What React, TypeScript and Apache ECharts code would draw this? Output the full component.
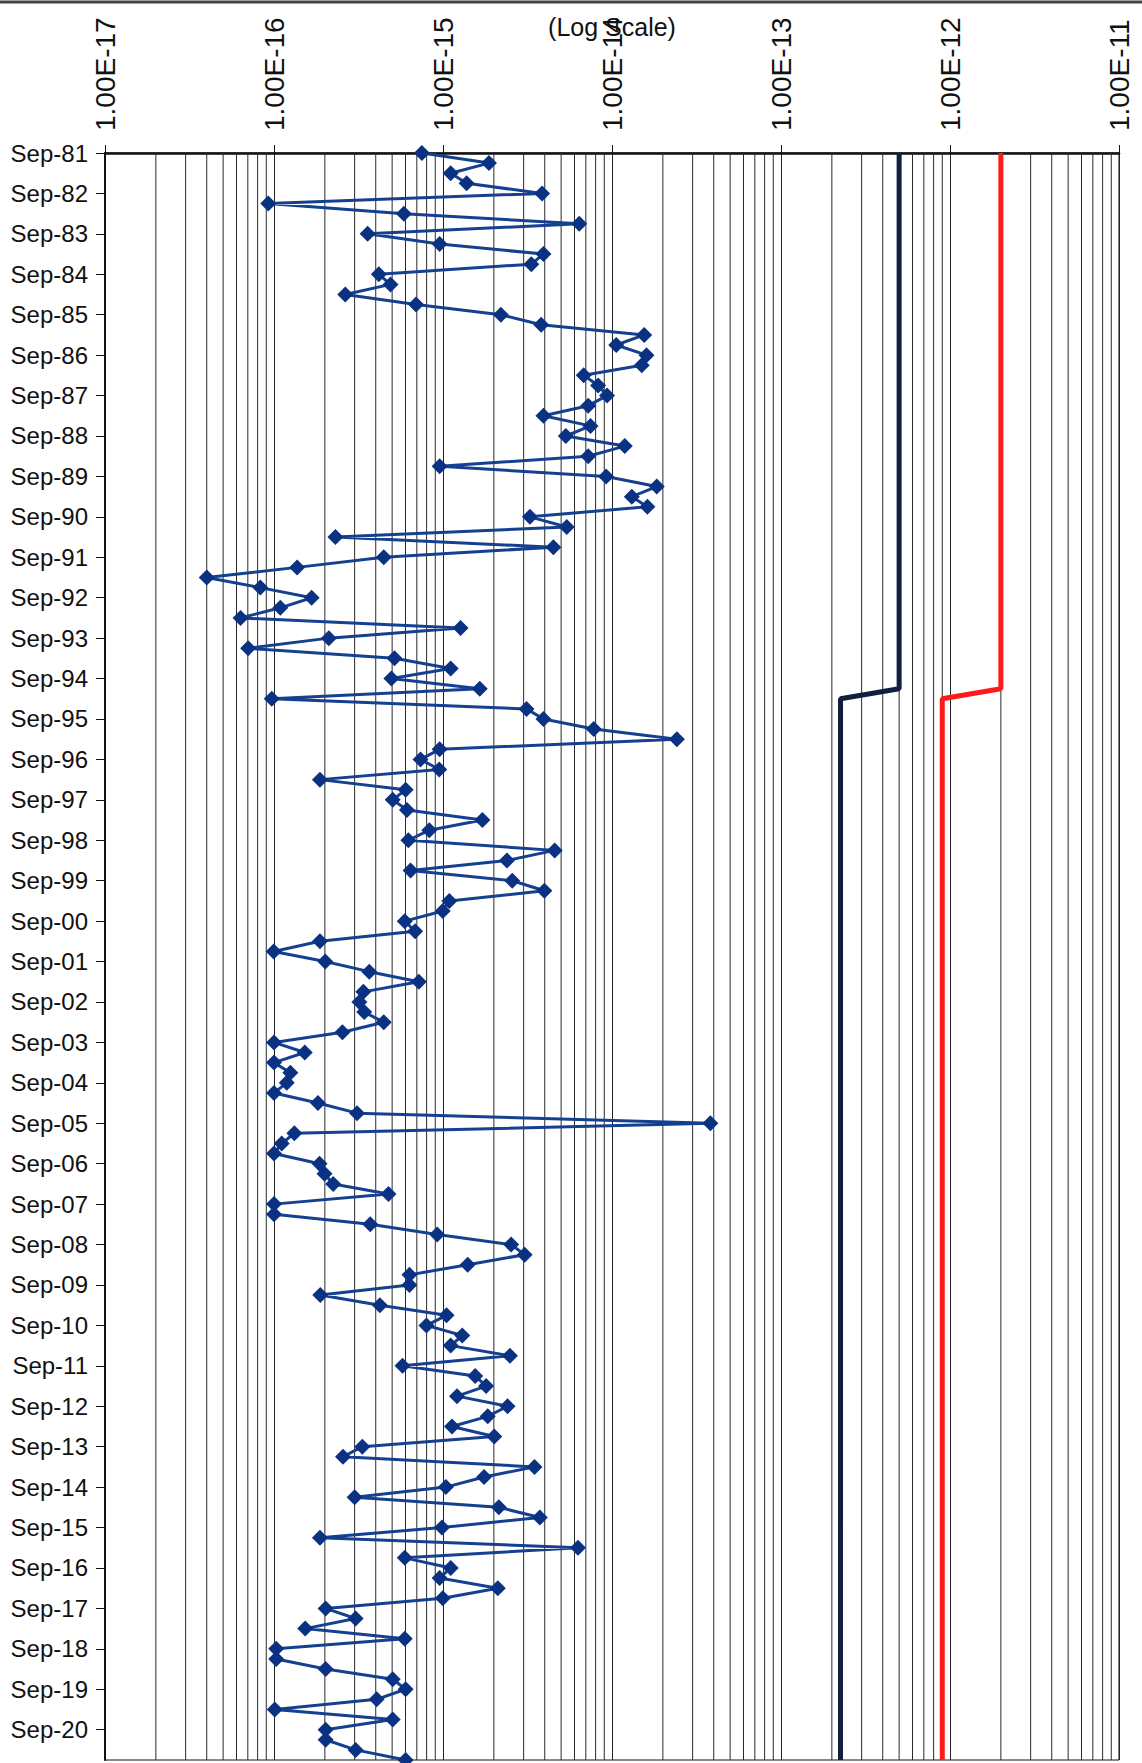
import React, { useEffect, useRef } from "react";
import * as echarts from "echarts";

// Quarterly sample dates, Sep-81 .. Jun-21
const quarterMonths = ["Sep", "Dec", "Mar", "Jun"];
const categories: string[] = [];
for (let i = 0; i < 160; i++) {
  const m = quarterMonths[i % 4];
  const year = 1981 + Math.floor(i / 4) + (i % 4 >= 2 ? 1 : 0);
  categories.push(`${m}-${String(year % 100).padStart(2, "0")}`);
}

// Axis tick labels (log scale decades)
const tickExponents = [-17, -16, -15, -14, -13, -12, -11];
const tickLabels = ["1.00E-17", "1.00E-16", "1.00E-15", "1.00E-14", "1.00E-13", "1.00E-12", "1.00E-11"];

// Measured values (one per quarter)
const measured: number[] = [
  7.5e-16, 1.87e-15, 1.11e-15, 1.38e-15, 3.86e-15, 9.25e-17, 5.87e-16, 6.4e-15, 3.58e-16, 9.55e-16,
  3.93e-15, 3.33e-15, 4.17e-16, 4.89e-16, 2.64e-16, 6.92e-16, 2.2e-15, 3.81e-15, 1.55e-14, 1.06e-14,
  1.6e-14, 1.5e-14, 6.8e-15, 8.28e-15, 9.35e-15, 7.23e-15, 3.93e-15, 7.46e-15, 5.33e-15, 1.19e-14,
  7.23e-15, 9.55e-16, 9.23e-15, 1.84e-14, 1.31e-14, 1.62e-14, 3.27e-15, 5.4e-15, 2.31e-16, 4.5e-15,
  4.46e-16, 1.37e-16, 4.0e-17, 8.3e-17, 1.67e-16, 1.09e-16, 6.34e-17, 1.27e-15, 2.11e-16, 7.03e-17,
  5.16e-16, 1.11e-15, 4.95e-16, 1.65e-15, 9.7e-17, 3.12e-15, 3.93e-15, 7.79e-15, 2.42e-14, 9.55e-16,
  7.36e-16, 9.5e-16, 1.87e-16, 6.01e-16, 5.04e-16, 6.12e-16, 1.71e-15, 8.3e-16, 6.24e-16, 4.58e-15,
  2.39e-15, 6.43e-16, 2.57e-15, 3.98e-15, 1.09e-15, 9.97e-16, 5.94e-16, 6.84e-16, 1.87e-16, 9.96e-17,
  2.01e-16, 3.66e-16, 7.19e-16, 3.38e-16, 3.2e-16, 3.42e-16, 4.46e-16, 2.54e-16, 1.0e-16, 1.52e-16,
  1.0e-16, 1.25e-16, 1.19e-16, 1.0e-16, 1.82e-16, 3.1e-16, 3.82e-14, 1.32e-16, 1.11e-16, 1.0e-16,
  1.86e-16, 1.99e-16, 2.24e-16, 4.76e-16, 1.0e-16, 1.0e-16, 3.71e-16, 9.24e-16, 2.53e-15, 3.04e-15,
  1.4e-15, 6.33e-16, 6.33e-16, 1.88e-16, 4.23e-16, 1.05e-15, 7.98e-16, 1.3e-15, 1.11e-15, 2.49e-15,
  5.76e-16, 1.55e-15, 1.8e-15, 1.21e-15, 2.41e-15, 1.84e-15, 1.13e-15, 2.01e-15, 3.33e-16, 2.56e-16,
  3.48e-15, 1.75e-15, 1.04e-15, 3.0e-16, 2.14e-15, 3.74e-15, 9.86e-16, 1.87e-16, 6.29e-15, 5.94e-16,
  1.11e-15, 9.55e-16, 2.11e-15, 9.97e-16, 2.02e-16, 3.04e-16, 1.53e-16, 5.94e-16, 1.03e-16, 1.03e-16,
  2.02e-16, 5.04e-16, 6.01e-16, 4.05e-16, 1.01e-16, 5.04e-16, 2.02e-16, 2.02e-16, 3.04e-16, 6.01e-16,
];

// Limit lines (step change between Dec-94 and Mar-95)
const navyLimit: [number, string][] = [
  [5e-13, "Sep-81"],
  [5e-13, "Dec-94"],
  [2.25e-13, "Mar-95"],
  [2.25e-13, "Jun-21"],
];
const redLimit: [number, string][] = [
  [2e-12, "Sep-81"],
  [2e-12, "Dec-94"],
  [9e-13, "Mar-95"],
  [9e-13, "Jun-21"],
];

// Minor log gridlines (2..9 within each decade)
const minorMultipliers = [2, 3, 4, 5, 6, 7, 8, 9];
const minorDecades = [-17, -16, -15, -14, -13, -12];

export default function App() {
  const ref = useRef<HTMLDivElement>(null);
  useEffect(() => {
    document.body.style.margin = "0";
    if (!ref.current) return;
    const chart = echarts.init(ref.current, null, { renderer: "svg" });
    const minorValues: number[] = [];
    minorDecades.forEach((e) => minorMultipliers.forEach((m) => minorValues.push(Number(`${m}e${e}`))));
    const font = "Liberation Sans, Arial, Helvetica, sans-serif";
    const first = categories[0];
    const last = categories[categories.length - 1];
    const minorSeries = minorValues.map((v) => ({
      type: "line",
      data: [
        [v, first],
        [v, last],
      ],
      symbol: "none",
      showSymbol: false,
      silent: true,
      z: 1,
      lineStyle: { color: "#2a2a2a", width: 1 },
      emphasis: { disabled: true },
    }));
    chart.setOption({
      animation: false,
      backgroundColor: "#ffffff",
      grid: { left: 105, right: 23, top: 153, bottom: 3, show: true, borderColor: "#111", borderWidth: 1, outerBoundsMode: "none" },
      xAxis: {
        type: "log",
        logBase: 10,
        position: "top",
        min: 1e-17,
        max: 1e-11,
        splitNumber: 6,
        axisLine: { show: true, lineStyle: { color: "#111", width: 2.5 } },
        axisTick: { show: true, length: 8, inside: false, lineStyle: { color: "#111", width: 1 } },
        axisLabel: {
          rotate: -90,
          margin: 22,
          fontSize: 28,
          fontFamily: font,
          color: "#111",
          formatter: (v: number) => {
            const e = Math.round(Math.log10(v));
            const idx = tickExponents.indexOf(e);
            return idx >= 0 ? tickLabels[idx] : "";
          },
        },
        splitLine: { show: true, lineStyle: { color: "#222", width: 1 } },
      },
      yAxis: {
        type: "category",
        data: categories,
        inverse: true,
        boundaryGap: false,
        axisLine: { show: true, lineStyle: { color: "#111", width: 2 } },
        axisTick: {
          show: true,
          length: 9,
          interval: (_i: number, v: string) => v.startsWith("Sep"),
          lineStyle: { color: "#111", width: 1 },
        },
        axisLabel: {
          interval: (_i: number, v: string) => v.startsWith("Sep"),
          margin: 17,
          fontSize: 24,
          fontFamily: font,
          color: "#111",
        },
        splitLine: { show: false },
      },
      graphic: [
        {
          type: "line",
          shape: { x1: 0, y1: 2, x2: 1142, y2: 2 },
          style: { stroke: "#444", lineWidth: 3 },
        },
        {
          type: "text",
          x: 612,
          y: 27,
          style: {
            text: "(Log Scale)",
            fontSize: 25,
            fontFamily: font,
            fill: "#111",
            align: "center",
            verticalAlign: "middle",
          },
        },
      ],
      series: [
        ...minorSeries,
        {
          type: "line",
          name: "limit-navy",
          data: navyLimit,
          symbol: "none",
          z: 3,
          lineStyle: { color: "#0f1f3d", width: 5 },
        },
        {
          type: "line",
          name: "limit-red",
          data: redLimit,
          symbol: "none",
          z: 3,
          lineStyle: { color: "#ff1a1a", width: 5 },
        },
        {
          type: "line",
          name: "measured",
          data: measured.map((v, i) => [v, categories[i]]),
          symbol: "diamond",
          symbolSize: 16,
          showSymbol: true,
          showAllSymbol: true,
          z: 5,
          lineStyle: { color: "#14408f", width: 3 },
          itemStyle: { color: "#0b3282" },
        },
      ],
    });
    return () => chart.dispose();
  }, []);
  return <div ref={ref} style={{ width: 1142, height: 1763 }} />;
}
